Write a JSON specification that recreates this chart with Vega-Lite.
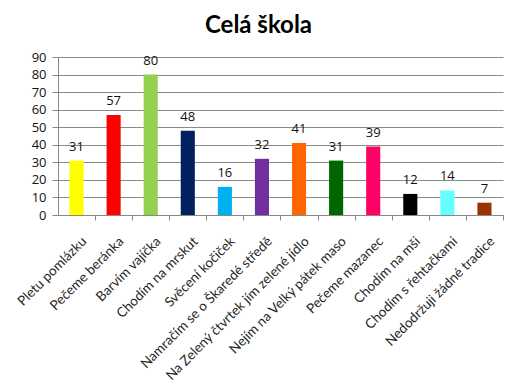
{
  "$schema": "https://vega.github.io/schema/vega-lite/v6.json",
  "autosize": "none",
  "width": 445,
  "height": 158,
  "padding": {"left": 58, "top": 57, "right": 15, "bottom": 170},
  "background": "white",
  "title": {
    "text": "Celá škola",
    "font": "Lato",
    "fontSize": 24,
    "fontWeight": "bold",
    "color": "#000000",
    "anchor": "middle",
    "offset": 13,
    "dx": -22
  },
  "config": {
    "view": {"stroke": null},
    "font": "Liberation Sans"
  },
  "data": {
    "values": [
      {"tradice": "Pletu pomlázku", "pocet": 31},
      {"tradice": "Pečeme beránka", "pocet": 57},
      {"tradice": "Barvím vajíčka", "pocet": 80},
      {"tradice": "Chodím na mrskut", "pocet": 48},
      {"tradice": "Svěcení kočiček", "pocet": 16},
      {"tradice": "Namračím se o Škaredé středě", "pocet": 32},
      {"tradice": "Na Zelený čtvrtek jím zelené jídlo", "pocet": 41},
      {"tradice": "Nejím na Velký pátek maso", "pocet": 31},
      {"tradice": "Pečeme mazanec", "pocet": 39},
      {"tradice": "Chodím na mši", "pocet": 12},
      {"tradice": "Chodím s řehtačkami", "pocet": 14},
      {"tradice": "Nedodržuji žádné tradice", "pocet": 7}
    ]
  },
  "encoding": {
    "x": {
      "field": "tradice",
      "type": "nominal",
      "sort": null,
      "scale": {"paddingInner": 0.62, "paddingOuter": 0.31},
      "axis": {
        "title": null,
        "labelAngle": -45,
        "labelAlign": "right",
        "labelBaseline": "top",
        "labelFont": "Lato",
        "labelFontSize": 13.5,
        "labelColor": "#262626",
        "labelPadding": 14,
        "labelOffset": -16,
        "tickOffset": 18.54,
        "tickSize": 5,
        "tickColor": "#888888",
        "domainColor": "#888888",
        "labelOverlap": false,
        "labelLimit": 300
      }
    },
    "y": {
      "field": "pocet",
      "type": "quantitative",
      "scale": {"domain": [0, 90], "nice": false},
      "axis": {
        "title": null,
        "values": [0, 10, 20, 30, 40, 50, 60, 70, 80, 90],
        "labelFont": "Open Sans",
        "labelFontSize": 13,
        "labelColor": "#111111",
        "tickSize": 6,
        "tickColor": "#888888",
        "domainColor": "#888888",
        "gridColor": "#8a8a8a",
        "gridWidth": 1,
        "labelPadding": 6
      }
    }
  },
  "layer": [
    {
      "mark": {"type": "bar"},
      "encoding": {
        "color": {
          "field": "tradice",
          "type": "nominal",
          "legend": null,
          "scale": {
            "domain": ["Pletu pomlázku", "Pečeme beránka", "Barvím vajíčka", "Chodím na mrskut", "Svěcení kočiček", "Namračím se o Škaredé středě", "Na Zelený čtvrtek jím zelené jídlo", "Nejím na Velký pátek maso", "Pečeme mazanec", "Chodím na mši", "Chodím s řehtačkami", "Nedodržuji žádné tradice"],
            "range": ["#FFFF00", "#FF0000", "#92D050", "#002060", "#00B0F0", "#7030A0", "#FF6600", "#006600", "#FF0066", "#000000", "#66FFFF", "#993300"]
          }
        }
      }
    },
    {
      "mark": {"type": "text", "baseline": "bottom", "dy": -7, "font": "Open Sans", "fontSize": 13, "color": "#111111"},
      "encoding": {"text": {"field": "pocet", "type": "quantitative"}}
    }
  ]
}
